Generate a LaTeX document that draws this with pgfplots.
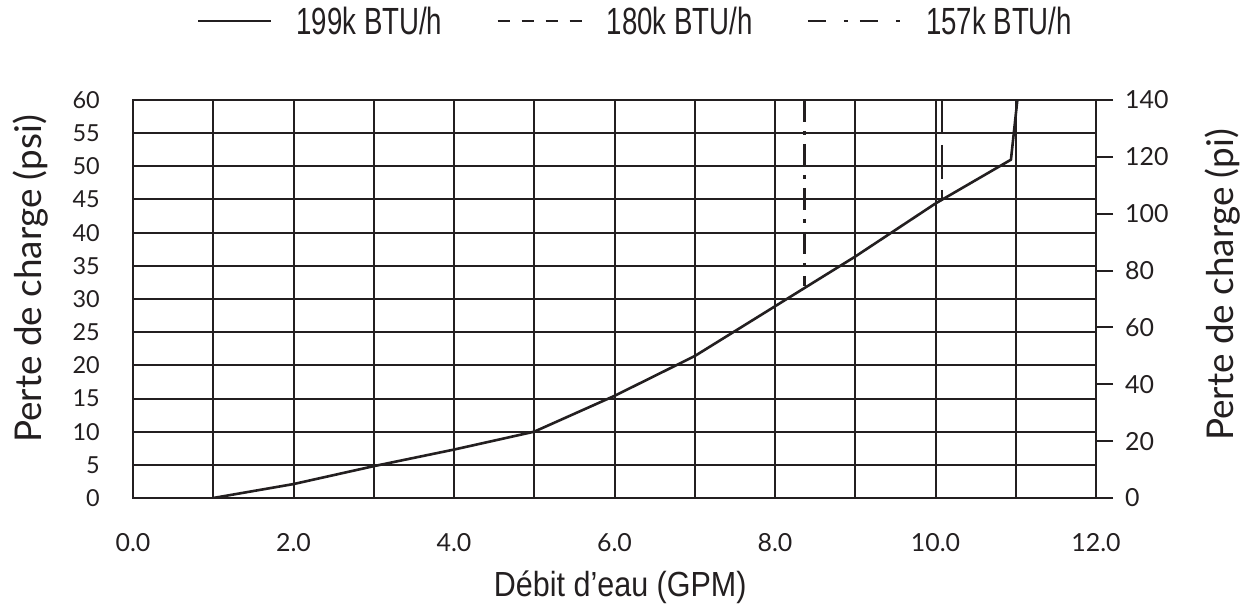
\documentclass[border=0pt]{standalone}
\usepackage{fontspec}
\setmainfont{Lato}
\newfontfamily\legfont[FakeStretch=0.73]{Liberation Sans}
\newfontfamily\xlabfont[FakeStretch=0.875]{Liberation Sans}
\usepackage{pgfplots}
\pgfplotsset{compat=1.18}
\definecolor{ink}{HTML}{231F20}
\begin{document}
\begin{tikzpicture}
\useasboundingbox (-133bp,-115bp) rectangle (1118bp,498bp);
\begin{axis}[
  at={(0,0)}, anchor=south west,
  scale only axis, width=963bp, height=398bp,
  xmin=0, xmax=12, ymin=0, ymax=60,
  xtick={0,2,...,12}, minor xtick={1,3,...,11},
  ytick={0,5,...,60},
  grid=both,
  major grid style={ink, line width=2bp},
  minor grid style={ink, line width=2bp},
  axis line style={ink, line width=2bp},
  major tick length=0, minor tick length=0,
  /pgf/number format/assume math mode=true,
  xticklabel style={font=\fontsize{25}{25}\selectfont, text=ink, anchor=north, inner sep=0pt, yshift=-35bp,
    /pgf/number format/.cd, fixed, fixed zerofill, precision=1},
  yticklabel style={font=\fontsize{23.5}{23.5}\selectfont, text=ink, anchor=east, inner sep=0pt, xshift=-33bp},
  xlabel={\xlabfont D\'ebit d’eau (GPM)},
  xlabel style={font=\fontsize{35}{35}\selectfont, text=ink, at={(axis description cs:0.506,-0.224)}, anchor=center},
  ylabel={Perte de charge (psi)},
  ylabel style={font=\fontsize{37}{37}\selectfont, text=ink, at={(axis description cs:-0.106,0.55)}, anchor=center, rotate=0},
  legend style={draw=none, fill=none, inner sep=0pt, outer sep=0pt,
    at={(axis description cs:0.0665,1.198)}, anchor=west,
    legend columns=3,
    font=\legfont\fontsize{38}{38}\selectfont,
    nodes={inner sep=0pt, text=ink},
    /tikz/every odd column/.append style={column sep=24bp},
    /tikz/every even column/.append style={column sep=54bp},
  },
]
\addplot[ink, line width=2.6bp, line join=round,
  legend image code/.code={\draw[ink, line width=2.4bp] (0bp,0bp) -- (73bp,0bp);}] coordinates {
  (1,0) (2,2.1) (3,4.8) (4,7.3) (5,10) (6,15.4) (7,21.4) (8,28.9) (9,36.4) (10,44.4) (10.94,51) (11.02,60)
};
\addlegendentry{199k BTU/h}
\addplot[ink, line width=2.4bp, dash pattern=on 34bp off 11bp,
  legend image code/.code={\draw[ink, line width=2.4bp, dash pattern=on 12bp off 12bp] (0bp,0bp) -- (84bp,0bp);}] coordinates {
  (10.08,60) (10.08,45)
};
\addlegendentry{180k BTU/h}
\addplot[ink, line width=2.4bp, dash pattern=on 22bp off 9bp on 4bp off 9bp,
  legend image code/.code={\draw[ink, line width=2.4bp, dash pattern=on 18bp off 18bp on 4bp off 12bp] (0bp,0bp) -- (93bp,0bp);}] coordinates {
  (8.37,60) (8.37,31.9)
};
\addlegendentry{157k BTU/h}
\end{axis}
\begin{axis}[
  at={(0,0)}, anchor=south west,
  scale only axis, width=963bp, height=398bp,
  xmin=0, xmax=12, ymin=0, ymax=140,
  axis x line=none,
  axis y line*=right,
  ytick={0,20,...,140},
  tick align=outside,
  major tick length=17bp,
  tick style={ink, line width=2bp},
  axis line style={ink, line width=2bp},
  /pgf/number format/assume math mode=true,
  yticklabel style={font=\fontsize{25}{25}\selectfont, text=ink, anchor=west, inner sep=0pt, xshift=12bp},
  ylabel={Perte de charge (pi)},
  ylabel style={font=\fontsize{37}{37}\selectfont, text=ink, at={(axis description cs:1.131,0.535)}, anchor=center, rotate=0},
]
\addplot[draw=none] coordinates {(0,0) (12,140)};
\end{axis}
\end{tikzpicture}
\end{document}
